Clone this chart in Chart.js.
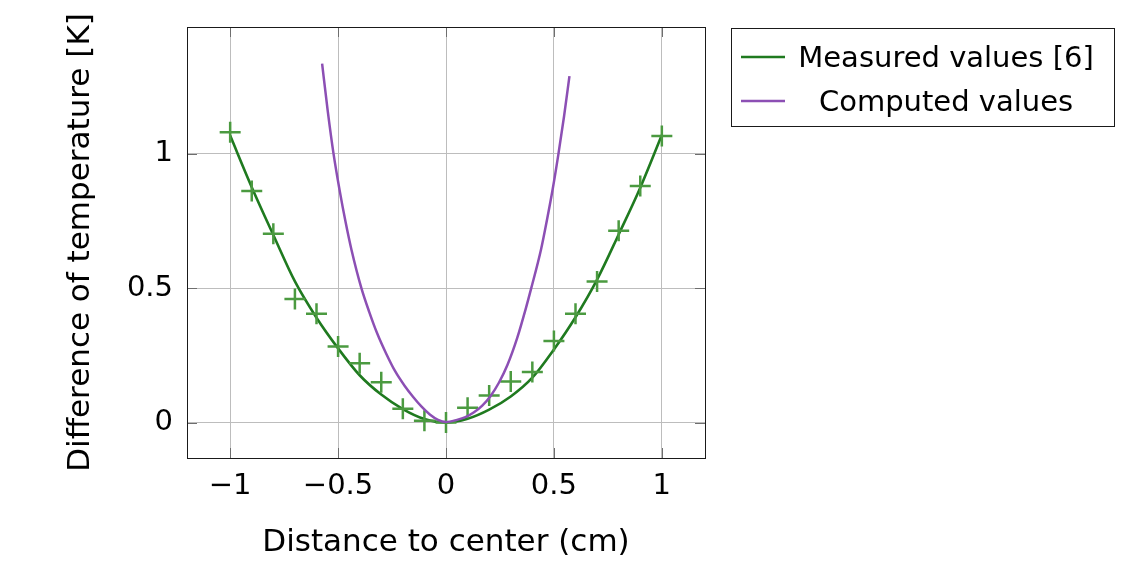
<!DOCTYPE html>
<html>
<head>
<meta charset="utf-8">
<script src="https://cdn.jsdelivr.net/npm/chart.js@4/dist/chart.umd.min.js"></script>
<style>
  html, body { margin: 0; padding: 0; background: #fff; }
  #wrap { width: 1145px; height: 567px; }
</style>
</head>
<body>
<div id="wrap"><canvas id="chart" width="1145" height="567"></canvas></div>
<script>
// measured points (+ markers), x in cm, y in K
const measuredX = [-1, -0.9, -0.8, -0.7, -0.6, -0.5, -0.4, -0.3, -0.2, -0.1, 0, 0.1, 0.2, 0.3, 0.4, 0.5, 0.6, 0.7, 0.8, 0.9, 1];
const measuredY = [1.08, 0.862, 0.703, 0.46, 0.405, 0.283, 0.221, 0.15, 0.051, 0.007, 0, 0.055, 0.101, 0.153, 0.188, 0.303, 0.405, 0.525, 0.714, 0.88, 1.066];

// smooth curve through the measured values
const fitX = [-1, -0.9, -0.8, -0.7, -0.6, -0.5, -0.4, -0.3, -0.2, -0.1, 0, 0.1, 0.2, 0.3, 0.4, 0.5, 0.6, 0.7, 0.8, 0.9, 1];
const fitY = [1.068, 0.876, 0.698, 0.525, 0.39, 0.276, 0.176, 0.104, 0.05, 0.013, 0, 0.014, 0.048, 0.097, 0.167, 0.272, 0.392, 0.532, 0.7, 0.874, 1.07];

// computed curve
const computedX = [-0.574, -0.548, -0.521, -0.493, -0.465, -0.438, -0.392, -0.355, -0.32, -0.278, -0.235, -0.192, -0.152, -0.112, -0.075, -0.037, 0,
  0.051, 0.09, 0.128, 0.168, 0.205, 0.245, 0.285, 0.33, 0.37, 0.395, 0.44, 0.468, 0.495, 0.521, 0.547, 0.572];
const computedY = [1.336, 1.16, 1.0, 0.865, 0.745, 0.643, 0.5, 0.41, 0.334, 0.258, 0.19, 0.137, 0.095, 0.058, 0.03, 0.01, 0.002,
  0.01, 0.02, 0.037, 0.063, 0.097, 0.148, 0.215, 0.315, 0.425, 0.5, 0.643, 0.755, 0.872, 1.0, 1.14, 1.289];

const xTicks = [-1, -0.5, 0, 0.5, 1];
const yTicks = [0, 0.5, 1];
const seriesNames = ['Measured values [6]', 'Computed values'];

const FONT = '"DejaVu Sans", sans-serif';
const FONT_SIZE = 29;
const TITLE_SIZE = 31;
const GREEN = '#1f7a1f';
const GREEN_MARK = '#4b9a40';
const PURPLE = '#8c4fb4';

function pairs(xs, ys) {
  return xs.map((x, i) => ({ x: x, y: ys[i] }));
}

function fmt(v) {
  const s = String(v);
  return s.charAt(0) === '-' ? '\u2212' + s.slice(1) : s;
}

// full frame, inner tick marks and the boxed legend
const framePlugin = {
  id: 'frame',
  afterDraw(chart) {
    const ctx = chart.ctx;
    const a = chart.chartArea;
    const sx = chart.scales.x, sy = chart.scales.y;
    ctx.save();
    ctx.strokeStyle = '#6e6e6e';
    ctx.lineWidth = 1;
    ctx.beginPath();
    xTicks.forEach(t => {
      const px = Math.round(sx.getPixelForValue(t)) + 0.5;
      ctx.moveTo(px, a.bottom); ctx.lineTo(px, a.bottom - 10);
      ctx.moveTo(px, a.top); ctx.lineTo(px, a.top + 10);
    });
    yTicks.forEach(t => {
      const py = Math.round(sy.getPixelForValue(t)) + 0.5;
      ctx.moveTo(a.left, py); ctx.lineTo(a.left + 10, py);
      ctx.moveTo(a.right, py); ctx.lineTo(a.right - 10, py);
    });
    ctx.stroke();
    ctx.strokeStyle = '#1a1a1a';
    ctx.strokeRect(Math.round(a.left) + 0.5, Math.round(a.top) + 0.5, Math.round(a.right - a.left), Math.round(a.bottom - a.top));

    // legend
    const lx = 731.5, ly = 28.5, lw = 383, lh = 98;
    ctx.fillStyle = '#fff';
    ctx.fillRect(lx, ly, lw, lh);
    ctx.strokeStyle = '#1a1a1a';
    ctx.strokeRect(lx, ly, lw, lh);
    const colors = [GREEN, PURPLE];
    const rows = [57, 101];
    ctx.font = FONT_SIZE + 'px ' + FONT;
    ctx.textBaseline = 'middle';
    ctx.textAlign = 'center';
    seriesNames.forEach((name, i) => {
      ctx.strokeStyle = colors[i];
      ctx.lineWidth = 2.5;
      ctx.beginPath();
      ctx.moveTo(741, rows[i]); ctx.lineTo(785, rows[i]);
      ctx.stroke();
      ctx.fillStyle = '#000';
      ctx.fillText(name, 946, rows[i] + 2);
    });
    ctx.restore();
  }
};

new Chart(document.getElementById('chart'), {
  type: 'scatter',
  data: {
    datasets: [
      {
        label: seriesNames[1],
        data: pairs(computedX, computedY),
        showLine: true,
        borderColor: PURPLE,
        borderWidth: 2.5,
        pointRadius: 0,
        cubicInterpolationMode: 'monotone'
      },
      {
        label: 'markers',
        data: pairs(measuredX, measuredY),
        showLine: false,
        pointStyle: 'cross',
        pointRadius: 10.5,
        pointBorderWidth: 2.5,
        borderColor: GREEN_MARK,
        backgroundColor: GREEN_MARK
      },
      {
        label: seriesNames[0],
        data: pairs(fitX, fitY),
        showLine: true,
        borderColor: GREEN,
        borderWidth: 2.6,
        pointRadius: 0,
        cubicInterpolationMode: 'monotone'
      }
    ]
  },
  options: {
    responsive: false,
    animation: false,
    devicePixelRatio: 1,
    layout: { padding: { left: 0, right: 440, top: 27, bottom: 0 } },
    plugins: { legend: { display: false }, tooltip: { enabled: false } },
    scales: {
      x: {
        type: 'linear',
        min: -1.2,
        max: 1.2,
        afterBuildTicks: s => { s.ticks = xTicks.map(v => ({ value: v })); },
        afterFit: s => { s.height = 109; s.paddingLeft = 0; s.paddingRight = 0; },
        grid: { color: '#bdbdbd', lineWidth: 1, drawTicks: false },
        border: { display: false },
        ticks: { color: '#000', padding: 11, font: { family: FONT, size: FONT_SIZE }, callback: v => fmt(v), maxRotation: 0 },
        title: { display: true, text: 'Distance to center (cm)', color: '#000', font: { family: FONT, size: TITLE_SIZE }, padding: { top: 0, bottom: 5 } }
      },
      y: {
        type: 'linear',
        min: -0.132,
        max: 1.472,
        afterBuildTicks: s => { s.ticks = yTicks.map(v => ({ value: v })); },
        afterFit: s => { s.width = 187; s.paddingTop = 0; s.paddingBottom = 0; },
        grid: { color: '#bdbdbd', lineWidth: 1, drawTicks: false },
        border: { display: false },
        ticks: { color: '#000', padding: 14, font: { family: FONT, size: FONT_SIZE }, callback: v => fmt(v) },
        title: { display: true, text: 'Difference of temperature [K]', color: '#000', font: { family: FONT, size: TITLE_SIZE }, padding: { top: 62, bottom: 0 } }
      }
    }
  },
  plugins: [framePlugin]
});
</script>
</body>
</html>
